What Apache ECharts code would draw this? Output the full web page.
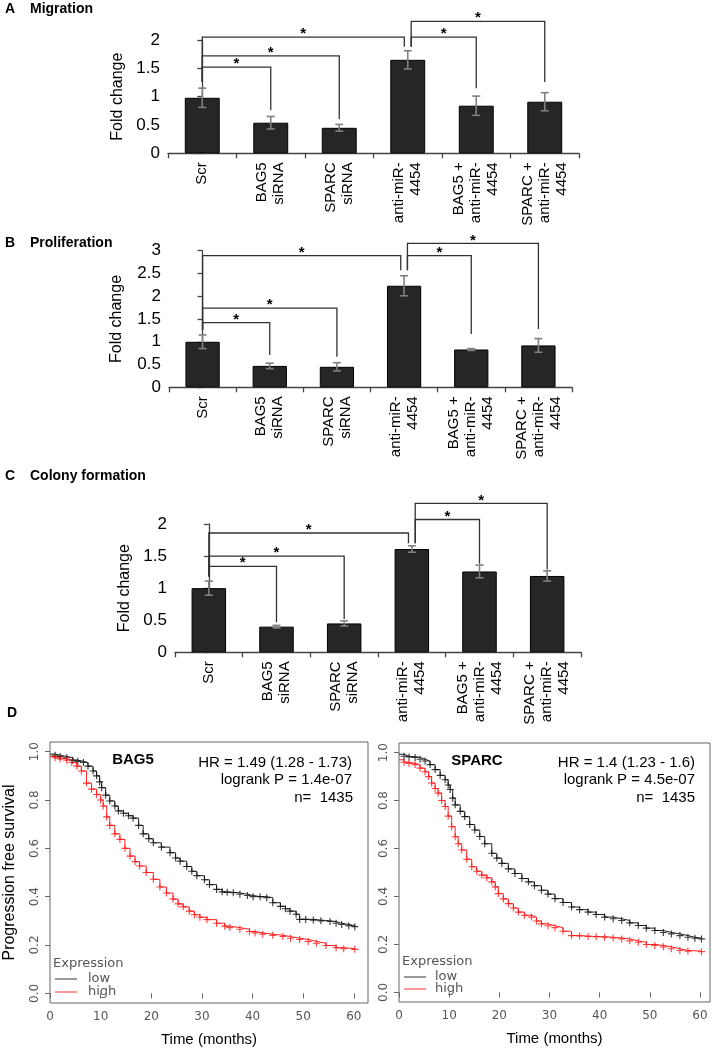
<!DOCTYPE html>
<html><head><meta charset="utf-8">
<script src="https://cdn.jsdelivr.net/npm/echarts@6/dist/echarts.min.js"></script>
<style>html,body{margin:0;padding:0;background:#fff}#c{width:712px;height:1050px}</style>
</head><body><div id="c"></div>
<script>
// ---------- DATA ----------
const categories = ['Scr','BAG5\nsiRNA','SPARC\nsiRNA','anti-miR-\n4454','BAG5 +\nanti-miR-\n4454','SPARC +\nanti-miR-\n4454'];

const migration    = [0.98, 0.54, 0.45, 1.65, 0.84, 0.91];
const migrationErr = [0.17, 0.11, 0.06, 0.16, 0.17, 0.16];
const proliferation    = [1.00, 0.47, 0.45, 2.23, 0.83, 0.92];
const proliferationErr = [0.15, 0.06, 0.09, 0.22, 0.02, 0.15];
const colony    = [1.00, 0.40, 0.45, 1.61, 1.26, 1.19];
const colonyErr = [0.11, 0.02, 0.04, 0.05, 0.10, 0.08];

// significance brackets: [fromCat, toCat, topValue, dropFromValue, dropToValue]
const migrationBrackets = [[0,1,1.52,1.26,0.76],[0,2,1.72,1.26,0.60],[0,3,2.05,1.26,1.88],[3,4,2.05,1.88,1.15],[3,5,2.33,1.88,1.26]];
const proliferationBrackets = [[0,1,1.42,1.26,0.71],[0,2,1.74,1.26,0.67],[0,3,2.89,1.26,2.57],[3,4,2.89,2.57,1.17],[3,5,3.16,2.57,1.28]];
const colonyBrackets = [[0,1,1.34,1.18,0.47],[0,2,1.50,1.18,0.52],[0,3,1.86,1.18,1.70],[3,4,2.07,1.70,1.38],[3,5,2.32,1.70,1.29]];

const foldTicks2 = [0, 0.5, 1, 1.5, 2];
const foldTicks3 = [0, 0.5, 1, 1.5, 2, 2.5, 3];
const timeTicks = [0, 10, 20, 30, 40, 50, 60];
const survTicks = [0, 0.2, 0.4, 0.6, 0.8, 1.0];

// Kaplan-Meier, BAG5
const bagLowT = [0,1,2,3.3,4.5,5.5,6.6,7.5,8.5,9.2,9.8,10.2,11,11.8,12.8,13.5,14.5,15.5,16.4,17.5,18.4,19.5,20.4,22,23.7,24.8,25.7,27,28,29,30.5,31.5,32.9,34,35,36.2,37.5,39,40.1,41.5,42.8,44,45.5,46.5,47.4,48.6,49.3,50.5,52,53.5,55.3,56.5,57.6,59,60.2];
const bagLowS = [0.99,0.985,0.98,0.975,0.965,0.96,0.955,0.94,0.92,0.90,0.875,0.851,0.82,0.796,0.775,0.755,0.745,0.735,0.725,0.695,0.66,0.64,0.623,0.605,0.582,0.56,0.547,0.525,0.505,0.487,0.47,0.45,0.43,0.42,0.418,0.416,0.41,0.405,0.40,0.40,0.396,0.375,0.36,0.35,0.34,0.327,0.306,0.306,0.303,0.30,0.297,0.29,0.285,0.28,0.276];
const bagHighT = [0,1,2,3.3,4.3,5.3,6.2,7.2,8.2,9.2,10,10.5,11.2,11.8,12.8,13.8,14.8,15.8,16.8,17.7,19,20.4,21.7,23,24.3,25.3,26.3,27.5,28.5,29.6,31,32.9,34.5,35.5,37.5,39.4,40.5,42,44,46,47.5,49.3,51,52.6,54.5,56.5,58,60.2];
const bagHighS = [0.98,0.975,0.97,0.965,0.955,0.94,0.92,0.87,0.845,0.823,0.80,0.775,0.73,0.695,0.66,0.637,0.60,0.568,0.545,0.527,0.50,0.472,0.44,0.415,0.39,0.37,0.358,0.34,0.325,0.315,0.305,0.29,0.278,0.272,0.265,0.256,0.25,0.245,0.24,0.235,0.228,0.223,0.215,0.207,0.198,0.189,0.185,0.182];
// Kaplan-Meier, SPARC
const sparcLowT = [0,1,2,3.2,4.2,5.2,6.2,7.2,8.2,9.2,9.8,10.2,10.7,11.2,12.2,13.1,14.1,15.1,16.1,17.1,18.5,19.5,20.5,21.8,23.1,24.5,25.8,27,28.4,29.7,31.1,32.7,34.4,36,37.7,39.3,41,42.7,44.4,46,47.7,49.3,51,52.7,54.3,56,57.6,59,60.3];
const sparcLowS = [0.993,0.985,0.982,0.98,0.972,0.965,0.95,0.929,0.905,0.887,0.865,0.846,0.81,0.782,0.755,0.733,0.70,0.677,0.65,0.62,0.58,0.56,0.538,0.515,0.496,0.475,0.461,0.445,0.426,0.41,0.391,0.375,0.356,0.345,0.335,0.325,0.314,0.307,0.30,0.29,0.279,0.268,0.258,0.25,0.244,0.237,0.23,0.226,0.223];
const sparcHighT = [0,1,2,3.2,4.2,5.2,5.9,6.5,7.2,7.8,8.5,9.2,9.8,10.5,11.2,11.8,12.5,13.5,14.5,15.5,16.5,17.5,18.5,19.2,19.8,20.8,21.8,22.8,23.8,25,26.4,27.4,28.4,29.7,31.1,32.7,34.4,36,37.7,39.3,41,42.7,44.4,46,47.7,49.3,51,52.7,54.3,56,57.6,60.3];
const sparcHighS = [0.97,0.96,0.955,0.95,0.935,0.92,0.90,0.873,0.85,0.831,0.80,0.775,0.735,0.691,0.649,0.62,0.594,0.555,0.524,0.505,0.489,0.478,0.461,0.44,0.412,0.39,0.37,0.352,0.335,0.322,0.314,0.298,0.286,0.278,0.27,0.255,0.237,0.235,0.233,0.232,0.23,0.227,0.223,0.215,0.209,0.20,0.196,0.19,0.182,0.175,0.172,0.17];

// ---------- CHART ----------
const chart = echarts.init(document.getElementById('c'), null, {renderer:'canvas'});
const FONT = 'Arial, "Liberation Sans", sans-serif';
const axisCol = '#444';

const panels = [
  {grid:{left:168, top:40,    width:411, height:113.3}, vals:migration,     errs:migrationErr,     br:migrationBrackets,     ticks:foldTicks2, nameGap:38},
  {grid:{left:169, top:250.7, width:403, height:136.6}, vals:proliferation, errs:proliferationErr, br:proliferationBrackets, ticks:foldTicks3, nameGap:44},
  {grid:{left:175, top:524,   width:406, height:128.3}, vals:colony,        errs:colonyErr,        br:colonyBrackets,        ticks:foldTicks2, nameGap:39}
];

const grids = [], xAxes = [], yAxes = [], series = [];

panels.forEach((p, i) => {
  grids.push(Object.assign({show:false}, p.grid));
  xAxes.push({
    type:'category', gridIndex:i, data:categories,
    axisLine:{show:true, lineStyle:{color:axisCol, width:1.3}},
    axisTick:{show:true, alignWithLabel:false, length:5, lineStyle:{color:axisCol, width:1.3}},
    axisLabel:{rotate:90, interval:0, fontSize:15, lineHeight:17, color:'#000', fontFamily:FONT, margin:9},
    splitLine:{show:false}
  });
  xAxes.push({type:'value', gridIndex:i, min:-0.5, max:5.5, show:false});
  const mx = p.ticks[p.ticks.length-1];
  yAxes.push({
    type:'value', gridIndex:i, min:0, max:mx, interval:0.5,
    axisLine:{show:true, lineStyle:{color:axisCol, width:1.3}},
    axisTick:{show:true, length:5, lineStyle:{color:axisCol, width:1.3}},
    axisLabel:{fontSize:17, color:'#000', fontFamily:FONT, margin:8},
    splitLine:{show:false},
    name:'Fold change', nameLocation:'middle', nameGap:p.nameGap,
    nameTextStyle:{fontSize:16, color:'#000', fontFamily:FONT}
  });
  series.push({
    type:'bar', xAxisIndex:2*i, yAxisIndex:i, data:p.vals, barWidth:'51%',
    itemStyle:{color:'#262626', borderColor:'#000', borderWidth:1}, silent:true
  });
  series.push({
    type:'custom', xAxisIndex:2*i+1, yAxisIndex:i, z:5, silent:true,
    data:p.vals.map((v,k)=>[k, v, p.errs[k]]),
    encode:{x:0, y:1},
    renderItem:(params, api) => {
      const k = api.value(0), v = api.value(1), e = api.value(2);
      const hi = api.coord([k, v+e]), lo = api.coord([k, v-e]);
      const st = {stroke:'#808080', lineWidth:1.6};
      return {type:'group', children:[
        {type:'line', shape:{x1:hi[0], y1:hi[1], x2:lo[0], y2:lo[1]}, style:st},
        {type:'line', shape:{x1:hi[0]-4, y1:hi[1], x2:hi[0]+4, y2:hi[1]}, style:st},
        {type:'line', shape:{x1:lo[0]-4, y1:lo[1], x2:lo[0]+4, y2:lo[1]}, style:st}
      ]};
    }
  });
  series.push({
    type:'custom', xAxisIndex:2*i+1, yAxisIndex:i, z:6, silent:true, clip:false,
    data:p.br, encode:{x:[0,1], y:[2,3,4]},
    renderItem:(params, api) => {
      let a = api.value(0), b = api.value(1);
      if (a === 3) a += 0.05;
      if (b === 3) b -= 0.05;
      const top = api.value(2), d1 = api.value(3), d2 = api.value(4);
      const p1 = api.coord([a, d1]), p2 = api.coord([a, top]), p3 = api.coord([b, top]), p4 = api.coord([b, d2]);
      return {type:'group', children:[
        {type:'polyline', shape:{points:[p1,p2,p3,p4]}, style:{stroke:'#333', lineWidth:1.3, fill:null}},
        {type:'text', x:(p2[0]+p3[0])/2, y:p2[1]-3, style:{text:'*', font:'bold 15px Arial', align:'center', verticalAlign:'middle', fill:'#000'}}
      ]};
    }
  });
});

// Kaplan-Meier panels
const plus = 'path://M4.2,0H5.8V4.2H10V5.8H5.8V10H4.2V5.8H0V4.2H4.2Z';
const kmPanels = [
  {grid:{left:50, top:742, width:318, height:261}, xmax:62.8, low:[bagLowT, bagLowS], high:[bagHighT, bagHighS], ylabel:'Progression free survival'},
  {grid:{left:399, top:743, width:311, height:259}, xmax:62.0, low:[sparcLowT, sparcLowS], high:[sparcHighT, sparcHighS], ylabel:''}
];
const pairs = (t, s) => t.map((x, k) => k === 0 ? {value:[x, s[k]], symbol:'none'} : [x, s[k]]);

kmPanels.forEach((p, j) => {
  const gi = 3 + j;
  grids.push(Object.assign({show:true, borderColor:'#666', borderWidth:1, backgroundColor:'transparent'}, p.grid));
  xAxes.push({
    type:'value', gridIndex:gi, min:0, max:p.xmax,
    axisLine:{show:false},
    axisTick:{show:true, customValues:timeTicks, length:5, lineStyle:{color:'#666'}},
    axisLabel:{customValues:timeTicks, fontSize:12, color:'#555', fontFamily:'"DejaVu Sans", sans-serif', margin:8},
    splitLine:{show:false},
    name:'Time (months)', nameLocation:'middle', nameGap:29,
    nameTextStyle:{fontSize:15, color:'#000', fontFamily:FONT}
  });
  yAxes.push({
    type:'value', gridIndex:gi, min:-0.04, max:1.04,
    axisLine:{show:false},
    axisTick:{show:true, customValues:survTicks, length:5, lineStyle:{color:'#666'}},
    axisLabel:{customValues:survTicks, rotate:90, fontSize:12, color:'#555', fontFamily:'"DejaVu Sans", sans-serif', margin:9,
      formatter:v => v.toFixed(1)},
    splitLine:{show:false},
    name:p.ylabel, nameLocation:'middle', nameGap:32,
    nameTextStyle:{fontSize:16, color:'#000', fontFamily:FONT}
  });
  const xi = 6 + j, yi = 3 + j;
  series.push({
    type:'line', name:'low', xAxisIndex:xi, yAxisIndex:yi, step:'end', data:pairs(p.low[0], p.low[1]),
    symbol:plus, symbolSize:7, showSymbol:true, showAllSymbol:true,
    lineStyle:{color:'#222', width:1}, itemStyle:{color:'rgba(10,10,10,0.8)'}, silent:true, z:3
  });
  series.push({
    type:'line', name:'high', xAxisIndex:xi, yAxisIndex:yi, step:'end', data:pairs(p.high[0], p.high[1]),
    symbol:plus, symbolSize:7, showSymbol:true, showAllSymbol:true,
    lineStyle:{color:'#ff2020', width:1}, itemStyle:{color:'rgba(255,20,20,0.8)'}, silent:true, z:3
  });
});

const T = (x, y, text, font, extra) => ({type:'text', x, y, silent:true,
  style:Object.assign({text, font, fill:'#000', align:'left', verticalAlign:'middle'}, extra || {})});
const L = (x1, y1, x2, y2, col) => ({type:'line', silent:true, shape:{x1, y1, x2, y2}, style:{stroke:col, lineWidth:1.2}});

const graphics = [
  T(5, 9, 'A', 'bold 14px Arial'), T(30, 9, 'Migration', 'bold 14px Arial'),
  T(5, 243, 'B', 'bold 14px Arial'), T(30, 243, 'Proliferation', 'bold 14px Arial'),
  T(5, 476, 'C', 'bold 14px Arial'), T(30, 476, 'Colony formation', 'bold 14px Arial'),
  T(7, 713, 'D', 'bold 14px Arial'),
  // BAG5 panel annotations
  T(133, 760, 'BAG5', 'bold 15px Arial', {align:'center'}),
  T(352, 763, 'HR = 1.49 (1.28 - 1.73)', '15px Arial', {align:'right'}),
  T(352, 780, 'logrank P = 1.4e-07', '15px Arial', {align:'right'}),
  T(353, 798, 'n=  1435', '15px Arial', {align:'right'}),
  T(53, 964, 'Expression', '13px "DejaVu Sans"', {fill:'#555'}),
  L(55, 979, 77, 979, '#555'), T(88, 979, 'low', '13px "DejaVu Sans"', {fill:'#555'}),
  L(55, 992, 77, 992, '#ff5050'), T(88, 992, 'high', '13px "DejaVu Sans"', {fill:'#555'}),
  // SPARC panel annotations
  T(477, 761, 'SPARC', 'bold 15px Arial', {align:'center'}),
  T(695, 763, 'HR = 1.4 (1.23 - 1.6)', '15px Arial', {align:'right'}),
  T(695, 780, 'logrank P = 4.5e-07', '15px Arial', {align:'right'}),
  T(695, 798, 'n=  1435', '15px Arial', {align:'right'}),
  T(402, 962, 'Expression', '13px "DejaVu Sans"', {fill:'#555'}),
  L(404, 977, 426, 977, '#555'), T(435, 977, 'low', '13px "DejaVu Sans"', {fill:'#555'}),
  L(404, 989, 426, 989, '#ff5050'), T(435, 989, 'high', '13px "DejaVu Sans"', {fill:'#555'})
];

chart.setOption({
  backgroundColor:'#fff',
  animation:false,
  textStyle:{fontFamily:FONT},
  grid:grids, xAxis:xAxes, yAxis:yAxes, series:series,
  graphic:graphics
});
</script></body></html>
